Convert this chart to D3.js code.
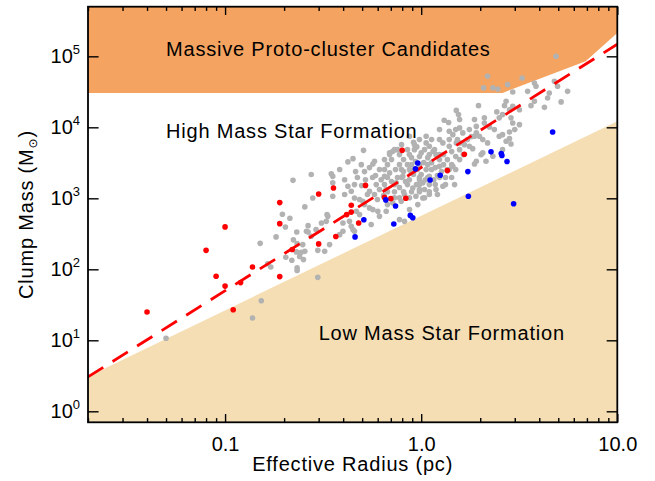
<!DOCTYPE html>
<html><head><meta charset="utf-8">
<script src="https://cdn.jsdelivr.net/npm/d3@7"></script>
<style>body{margin:0;background:#fff}svg{display:block}</style>
</head><body><svg id="c" width="655" height="481"></svg>
<script>
// ---- data ----
const xTickMajor = [0.1, 1, 10];
const xTickLabels = ["0.1", "1.0", "10.0"];
const xTickMinor = [0.02,0.03,0.04,0.05,0.06,0.07,0.08,0.09,0.2,0.3,0.4,0.5,0.6,0.7,0.8,0.9,2,3,4,5,6,7,8,9];
const yTickMajor = [1, 10, 100, 1000, 10000, 100000];
const yTickExp = ["0","1","2","3","4","5"];

// region boundaries [radius pc, mass Msun]
const protoClusterEdge = [[0.02,30500],[2.6,30500],[6.9,85000],[10,213000]];
const lowMassEdge = [[0.02,3.1],[10,12200]];
const fitLine = [[0.02,3.05],[10,148000]];

const regionLabels = ["Massive Proto-cluster Candidates","High Mass Star Formation","Low Mass Star Formation"];
const regionLabelPos = [[0.05,100000],[0.05,7000],[0.3,10]];

const redPoints = [[0.04,25],[0.08,185],[0.1,396],[0.09,80],[0.1,58],[0.12,65],[0.11,27],[0.138,108],
 [0.19,870],[0.19,440],[0.22,190],[0.19,79],[0.30,1150],[0.357,1400],[0.52,1520],[0.44,800],[0.44,640],
 [0.417,590],[0.48,450],[0.367,290],[0.30,228],[0.65,1030],[0.70,990],[0.835,1000],[0.80,4740],[1.66,4170],[1.36,2455]];

const bluePoints = [[0.66,950],[0.74,780],[0.51,500],[0.46,286],[0.725,435],[0.88,575],[0.906,533],[0.96,3150],
 [0.935,2600],[1.11,1815],[1.25,2110],[1.73,2380],[1.74,1070],[2.27,4510],[2.56,4270],[2.58,4000],[2.74,3300],
 [4.68,8600],[2.96,840]];

const greyPoints = [
 [0.05,10.7],[0.138,20.6],[0.153,36],[0.297,77],[0.222,1790],[0.196,595],[0.214,523],[0.203,395],[0.232,336],
 [0.182,286],[0.151,232],[0.223,260],[0.233,230],[0.204,148],[0.231,176],[0.219,134],[0.165,120],[0.171,108],
 [0.233,105],[0.244,173],[0.251,137],[0.233,96],[0.297,185],[0.322,179],[0.275,2160],[0.28,1010],[0.255,757],
 [0.26,343],[0.291,362],[0.31,450],[0.334,557],[0.265,412],
 [0.508,4740],[0.449,3620],[0.423,3260],[0.495,2980],[0.578,3320],[0.567,3050],[0.69,4360],[0.717,4590],
 [0.914,6150],[0.95,5300],[0.348,2210],[0.354,2040],[0.354,1650],[0.407,1830],[0.423,1480],[0.44,1260],
 [0.331,590],[0.354,1070],[0.457,1010],[0.485,960],[0.504,907],[0.545,1260],[0.578,1130],[0.59,1560],
 [0.625,1830],[0.65,2040],[0.69,2280],[0.545,733],[0.567,693],[0.601,656],[0.467,656],[0.485,590],
 [0.431,474],[0.44,404],[0.449,362],[0.457,343],[0.399,450],[0.328,474],[0.275,292],[0.265,336],
 [0.249,223],[0.255,179],[0.24,152],[0.341,223],[0.384,308],[0.399,343],[0.556,427],[0.613,557],[0.663,656],
 [0.775,501],[0.822,474],[0.663,1330],[0.746,1650],[0.806,2040],[0.872,2540],[0.906,1400],[0.791,907],
 [0.717,861],[0.872,693],[0.961,815],[0.98,1830],
 [1.96,20200],[1.51,17300],[1.55,15100],[1.31,12600],[1.38,11700],[2.43,16500],[2.66,20200],[2.1,11500],
 [2.23,10100],[2.36,9290],[1.91,8340],[1.98,7470],[2.5,7470],[2.71,6350],[1.39,8790],[1.45,7890],[1.57,9810],
 [1.63,8340],[1.24,6710],[1.29,6030],[1.06,6030],[1.1,5400],[0.924,5700],[1.0,4360],[1.15,4590],[1.19,4120],
 [1.39,5400],[1.57,6030],[1.76,5400],[2.06,4360],[2.32,3910],[2.6,4850],[2.14,3320],[1.91,3320],[1.57,3510],
 [1.45,2820],[1.39,2540],[1.24,2820],[1.06,2540],[1.1,2040],[1.02,1650],[0.98,1330],[0.94,1070],[1.02,1010],
 [1.48,1560],[1.29,1480],[1.19,1330],[0.872,7470],[1.51,6030],[0.89,2280],
 [4.87,100000],[2.18,52300],[3.27,49600],[2.08,35900],[2.32,35900],[2.46,34700],[2.76,39900],[3.85,37800],
 [3.78,42200],[4.78,44400],[4.96,37800],[4.5,30500],[5.58,32100],[2.93,31500],[3.49,32100],[4.41,25900],
 [3.78,23200],[3.63,20200],[4.25,19100],[5.17,22800],[2.71,23200],[2.93,19800],[2.82,17700],[3.17,17700],
 [2.6,15100],[2.5,13600],[2.1,13600],[1.91,10300],[2.87,13600],[2.93,11500],[3.17,10900],[3.0,9290],
 [2.82,8610],[2.6,7890],[2.82,6930],[2.87,5830],[2.06,6710],[1.87,7470],[2.02,4120],[1.87,3050],[1.83,5010],
 [2.18,6030],[1.06,7470],
 [0.673,2980],[0.706,3510],[0.740,2540],[0.775,2980],[0.813,3510],[0.757,1960],[0.813,2380],[0.851,2980],
 [0.893,3740],[0.936,3290],[0.980,3870],[1.03,3180],[1.08,3740],[1.13,3180],[1.18,2710],[1.24,3510],
 [1.30,4130],[1.36,3510],[1.43,4550],[1.50,3870],[1.57,4850],[1.64,4130],[1.72,6710],[1.80,7400],[1.66,5700],
 [0.832,1720],[0.871,1830],[0.914,2160],[0.957,2540],[1.00,2160],[1.05,1830],[1.10,1560],[1.16,1830],
 [1.21,2090],[1.27,2380],[1.33,1960],[0.775,1420],[0.731,1240],[0.822,1130],[0.893,1240],[0.946,1560],
 [1.04,1330],[1.10,1130],[1.21,1130],[0.706,1720],[0.650,1560],[0.613,1330],[0.643,1090],[0.598,960],
 [0.673,815],[0.731,1020],[0.757,4850],[0.794,5700],[0.851,4850],[0.650,3510],[0.613,2540],[0.565,1960],
 [0.520,1830],[0.497,1510],[0.532,1130],[0.585,2090],[0.545,2710],[0.514,2380],[0.473,1960],[0.457,1560],
 [0.731,4850],[0.924,4850],[1.04,4850],[1.17,4850],[0.690,4130],[0.775,4130],[0.871,4130],[1.10,4130],[1.24,4130],
 [0.893,2980],[0.98,2980],[1.08,2980],[1.30,2980],[1.43,2980],[0.650,2540],[0.794,2540],[0.924,2540],[1.13,2540],
 [1.36,2540],[1.50,2540],[0.673,1960],[0.794,1960],[0.98,1960],[1.08,1960],[1.24,1960],[1.43,1960],
 [0.731,1560],[0.851,1560],[0.98,1560],[1.18,1560],[1.33,1560],[0.673,1240],[0.813,1240],[0.98,1240],[1.10,1240],
 [0.775,1020],[0.871,1020],[1.04,1020],[0.98,6710],[1.13,6710],[1.39,6710],[1.53,6710],[1.24,9290],[1.50,9290],
 [1.76,9290],[1.57,12900],[1.87,12900],[0.384,2540],[0.463,2380],[0.407,1130],[0.514,815]
];

// ---- drawing ----
const L = 88, R = 617.3, T = 6.7, B = 422.3;
const svg = d3.select("#c");
const font = "'Liberation Sans', Arial, Helvetica, sans-serif";

const x = d3.scaleLog().domain([0.02, 10]).range([L, R]);
const y = d3.scaleLog().domain([0.7, 5e5]).range([B, T]);

svg.append("defs").append("clipPath").attr("id","plot")
  .append("rect").attr("x",L).attr("y",T).attr("width",R-L).attr("height",B-T);

const g = svg.append("g").attr("clip-path","url(#plot)");

const lowPoly = lowMassEdge.map(d=>[x(d[0]),y(d[1])]);
lowPoly.push([x(10), y(0.7)], [x(0.02), y(0.7)]);
g.append("path").attr("d", d3.line()(lowPoly)).attr("fill","#F5DEB3");

const protoPoly = protoClusterEdge.map(d=>[x(d[0]),y(d[1])]);
protoPoly.push([x(10), y(5e5)], [x(0.02), y(5e5)]);
g.append("path").attr("d", d3.line()(protoPoly)).attr("fill","#F4A460");

regionLabels.forEach((t,i)=>{
  svg.append("text").attr("x", x(regionLabelPos[i][0])).attr("y", y(regionLabelPos[i][1]))
    .attr("font-family", font).attr("font-size", 20).attr("letter-spacing","0.8px")
    .attr("fill","#000").text(t);
});

g.append("g").selectAll("circle").data(greyPoints).join("circle")
  .attr("cx", d=>x(d[0])).attr("cy", d=>y(d[1])).attr("r", 2.8).attr("fill", "#b2b2b2");

g.append("path").attr("d", d3.line().x(d=>x(d[0])).y(d=>y(d[1]))(fitLine))
  .attr("fill","none").attr("stroke","#ff0000").attr("stroke-width",2.8).attr("stroke-dasharray","18,11");

g.append("g").selectAll("circle").data(redPoints).join("circle")
  .attr("cx", d=>x(d[0])).attr("cy", d=>y(d[1])).attr("r", 2.8).attr("fill", "#ff0000");
g.append("g").selectAll("circle").data(bluePoints).join("circle")
  .attr("cx", d=>x(d[0])).attr("cy", d=>y(d[1])).attr("r", 2.8).attr("fill", "#0000ff");

function styleAxis(sel){
  sel.select(".domain").remove();
  sel.selectAll(".tick line").attr("stroke","#000").attr("stroke-width",1.4);
  sel.selectAll("text").attr("font-family", font).attr("font-size", 20).attr("fill","#000");
}
const xMajLen = 8.3, xMinLen = 4.2, yMajLen = 10.6;
svg.append("g").attr("transform",`translate(0,${B})`)
  .call(d3.axisBottom(x).tickValues(xTickMajor).tickSize(-xMajLen).tickPadding(14.2)
    .tickFormat((d,i)=>xTickLabels[i])).call(styleAxis);
svg.append("g").attr("transform",`translate(0,${B})`)
  .call(d3.axisBottom(x).tickValues(xTickMinor).tickSize(-xMinLen).tickFormat("")).call(styleAxis);
svg.append("g").attr("transform",`translate(0,${T})`)
  .call(d3.axisTop(x).tickValues(xTickMajor).tickSize(-xMajLen).tickFormat("")).call(styleAxis);
svg.append("g").attr("transform",`translate(0,${T})`)
  .call(d3.axisTop(x).tickValues(xTickMinor).tickSize(-xMinLen).tickFormat("")).call(styleAxis);
const ya = svg.append("g").attr("transform",`translate(${L},0)`)
  .call(d3.axisLeft(y).tickValues(yTickMajor).tickSize(-yMajLen).tickPadding(8).tickFormat("")).call(styleAxis);
ya.selectAll(".tick text").each(function(d,i){
  const t = d3.select(this);
  t.append("tspan").text("10");
  t.append("tspan").attr("font-size",13).attr("dy",-9).text(yTickExp[i]);
});
svg.append("g").attr("transform",`translate(${R},0)`)
  .call(d3.axisRight(y).tickValues(yTickMajor).tickSize(-yMajLen).tickFormat("")).call(styleAxis);

svg.append("rect").attr("x",L).attr("y",T).attr("width",R-L).attr("height",B-T)
  .attr("fill","none").attr("stroke","#000").attr("stroke-width",1.8);

svg.append("text").attr("x",(L+R)/2).attr("y",471).attr("text-anchor","middle")
  .attr("font-family",font).attr("font-size",20).attr("letter-spacing","0.8px").text("Effective Radius (pc)");
const yt = svg.append("text").attr("transform",`translate(33,${(T+B)/2}) rotate(-90)`).attr("text-anchor","middle")
  .attr("font-family",font).attr("font-size",20).attr("letter-spacing","0.8px");
yt.append("tspan").text("Clump Mass (M");
yt.append("tspan").attr("font-size",12).attr("dy",4).attr("font-family","'DejaVu Sans', sans-serif").text("\u2299");
yt.append("tspan").attr("dy",-4).text(")");
</script></body></html>
